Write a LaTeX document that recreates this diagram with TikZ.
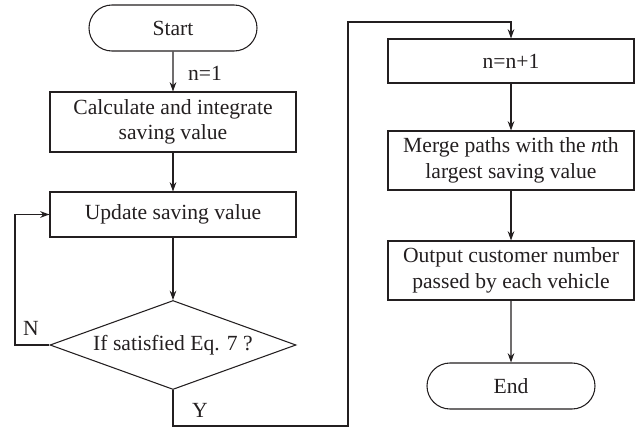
\documentclass[tikz,border=0pt]{standalone}
\usepackage{fontspec}
\setmainfont{Liberation Serif}
\usetikzlibrary{shapes.misc,shapes.geometric,arrows.meta}
\definecolor{ink}{RGB}{35,31,32}
\begin{document}
\begin{tikzpicture}[x=0.75pt,y=-0.75pt,
  every node/.style={font=\fontsize{16.2}{19}\selectfont, text=ink},
  proc/.style={draw=ink, line width=0.8pt, rectangle, minimum width=184.5pt, align=center, inner sep=0pt},
  term/.style={draw=ink, line width=0.8pt, rounded rectangle, minimum width=126pt, minimum height=34.5pt, inner sep=0pt},
  decis/.style={draw=ink, line width=0.8pt, diamond, aspect=2.76, minimum width=184.5pt, minimum height=66.75pt, inner sep=0pt},
  conn/.style={draw=ink, line width=0.8pt, -{Stealth[length=7pt,width=5pt]}},
  lbl/.style={inner sep=0pt}
]
\useasboundingbox (0,0) rectangle (638,428);
\node[term] (start) at (173,28) {Start};
\node[proc, minimum height=45pt] (calc) at (173,122) {Calculate and integrate\\saving value};
\node[proc, minimum height=33.75pt] (upd) at (173,214.5) {Update saving value};
\node[decis] (dec) at (173,345) {If satisfied Eq. 7 ?};
\node[proc, minimum height=33pt] (nn) at (511,61) {n=n+1};
\node[proc, minimum height=44.25pt] (merge) at (511,160.5) {Merge paths with the \textit{n}th\\largest saving value};
\node[proc, minimum height=44.25pt] (out) at (511,270.5) {Output customer number\\passed by each vehicle};
\node[term] (end) at (511,386) {End};

\coordinate (nl) at (15,345);
\coordinate (yb) at (348,426);
\coordinate (yt) at (348,22);

\draw[conn] (start) -- (calc);
\node[lbl] (n1) at (205,73) {n=1};
\draw[conn] (calc) -- (upd);
\draw[conn] (upd) -- (dec);
\draw[conn] (dec.west) -- (nl) |- (upd.west);
\node[lbl] (nlab) at (31,328) {N};
\draw[conn] (dec.south) -- (dec.south |- yb) -- (yb) -- (yt) -| (nn.north);
\node[lbl] (ylab) at (200,410) {Y};
\draw[conn] (nn) -- (merge);
\draw[conn] (merge) -- (out);
\draw[conn] (out) -- (end);
\end{tikzpicture}
\end{document}
